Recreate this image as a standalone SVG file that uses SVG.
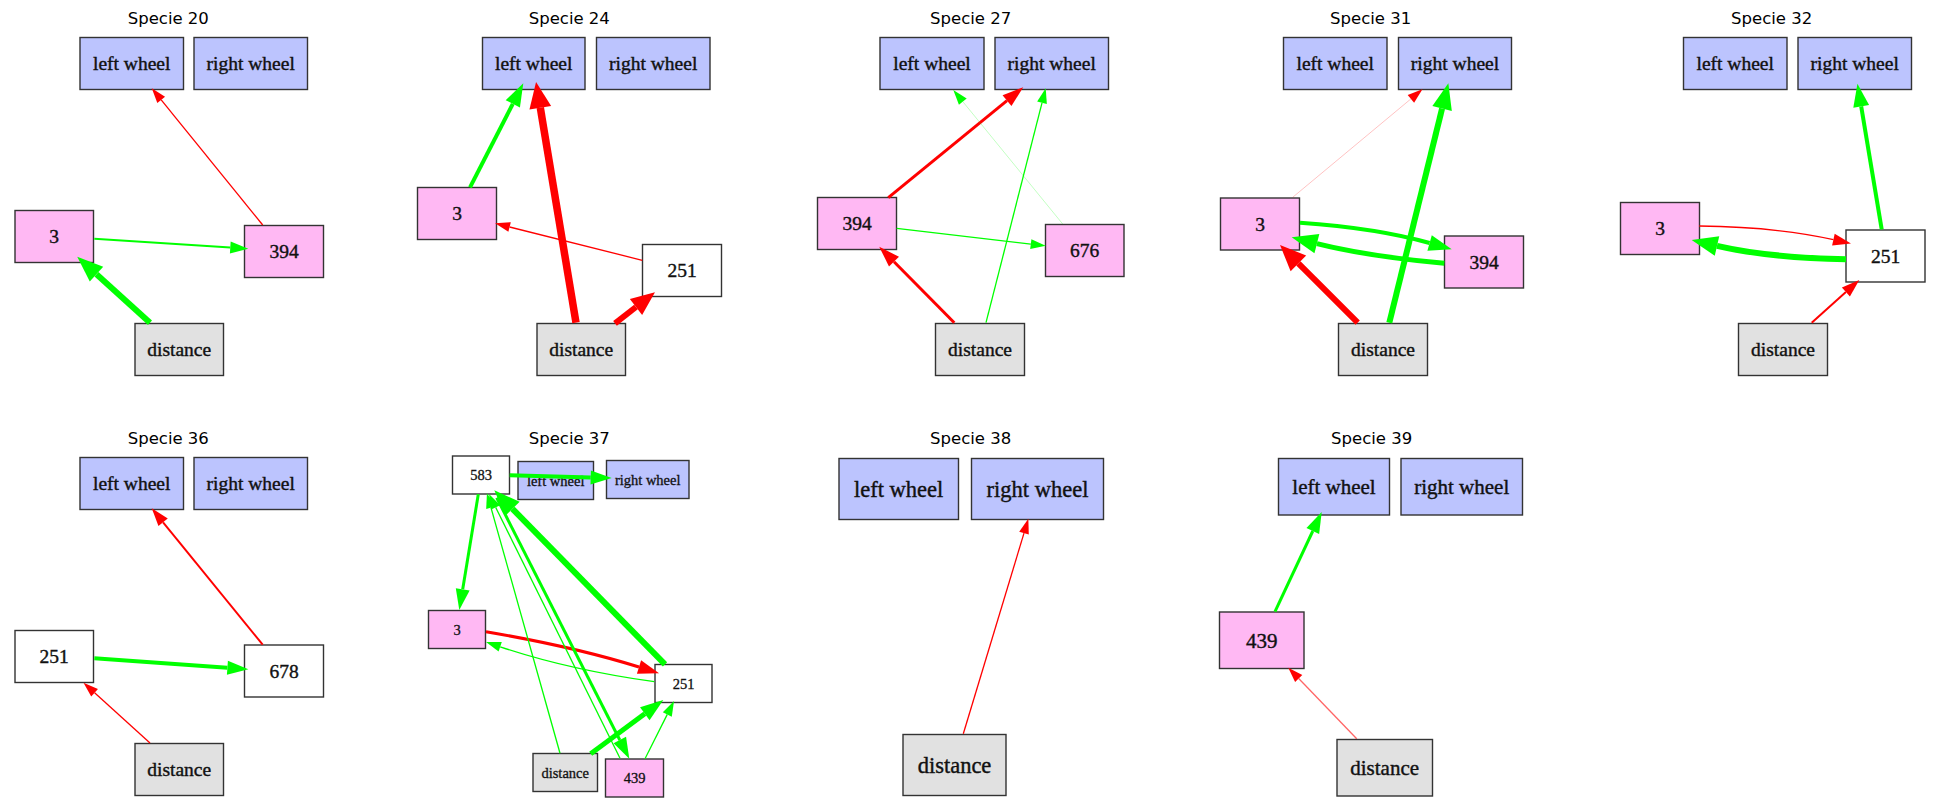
<svg xmlns="http://www.w3.org/2000/svg" width="1939" height="812" viewBox="0 0 1939 812">
  <style>
    .title { font-family: "DejaVu Sans", sans-serif; font-size: 16.5px; text-anchor: middle; fill: #000; }
    .node rect { stroke: #333333; stroke-width: 1.4; }
    .node text { font-family: "Liberation Serif", "Times New Roman", serif; text-anchor: middle; fill: #111; stroke: #111; stroke-width: 0.4; }
    .f19 text { font-size: 19.5px; }
    .f15 text { font-size: 14.5px; stroke-width: 0.3; }
    .f22 text { font-size: 22.5px; }
    .f21 text { font-size: 21px; }
    .blue { fill: #bcc4fe; }
    .pink { fill: #ffb8f3; }
    .grey { fill: #e1e1e1; }
    .white { fill: #ffffff; }
    .r { stroke: #ff0000; fill: none; }
    .g { stroke: #00ff00; fill: none; }
    .w0 { stroke-width: 0.8; }
    .w1 { stroke-width: 1.3; }
    .w2 { stroke-width: 2; }
    .w3 { stroke-width: 3; }
    .w4 { stroke-width: 4; }
    .w5 { stroke-width: 5; }
    .w6 { stroke-width: 6; }
    .w7 { stroke-width: 7.5; }
  </style>
  <defs>
    <!-- arrowheads: base at the path end, tip pointing forward -->
    <marker id="r15" markerUnits="userSpaceOnUse" orient="auto" refX="0" refY="0" overflow="visible"><path d="M0,-5 L15,0 L0,5z" fill="#ff0000"/></marker>
    <marker id="r18" markerUnits="userSpaceOnUse" orient="auto" refX="0" refY="0" overflow="visible"><path d="M0,-6 L18,0 L0,6z" fill="#ff0000"/></marker>
    <marker id="r21" markerUnits="userSpaceOnUse" orient="auto" refX="0" refY="0" overflow="visible"><path d="M0,-7 L21,0 L0,7z" fill="#ff0000"/></marker>
    <marker id="r24" markerUnits="userSpaceOnUse" orient="auto" refX="0" refY="0" overflow="visible"><path d="M0,-10 L24,0 L0,10z" fill="#ff0000"/></marker>
    <marker id="r26" markerUnits="userSpaceOnUse" orient="auto" refX="0" refY="0" overflow="visible"><path d="M0,-11 L26,0 L0,11z" fill="#ff0000"/></marker>
    <marker id="g15" markerUnits="userSpaceOnUse" orient="auto" refX="0" refY="0" overflow="visible"><path d="M0,-5 L15,0 L0,5z" fill="#00ff00"/></marker>
    <marker id="g18" markerUnits="userSpaceOnUse" orient="auto" refX="0" refY="0" overflow="visible"><path d="M0,-6 L18,0 L0,6z" fill="#00ff00"/></marker>
    <marker id="g21" markerUnits="userSpaceOnUse" orient="auto" refX="0" refY="0" overflow="visible"><path d="M0,-7 L21,0 L0,7z" fill="#00ff00"/></marker>
    <marker id="g23" markerUnits="userSpaceOnUse" orient="auto" refX="0" refY="0" overflow="visible"><path d="M0,-8 L23,0 L0,8z" fill="#00ff00"/></marker>
    <marker id="g26" markerUnits="userSpaceOnUse" orient="auto" refX="0" refY="0" overflow="visible"><path d="M0,-10 L26,0 L0,10z" fill="#00ff00"/></marker>
  </defs>
  <rect width="1939" height="812" fill="#ffffff"/>

  <!-- panel titles -->
  <g id="titles">
    <text class="title" x="168.3" y="23.5">Specie 20</text>
    <text class="title" x="569.3" y="23.5">Specie 24</text>
    <text class="title" x="970.7" y="23.5">Specie 27</text>
    <text class="title" x="1370.7" y="23.5">Specie 31</text>
    <text class="title" x="1771.7" y="23.5">Specie 32</text>
    <text class="title" x="168.3" y="443.5">Specie 36</text>
    <text class="title" x="569.3" y="443.5">Specie 37</text>
    <text class="title" x="970.7" y="443.5">Specie 38</text>
    <text class="title" x="1371.7" y="443.5">Specie 39</text>
  </g>

  <!-- Specie 20 -->
  <g id="s20-left-wheel" class="node f19"><rect class="blue" x="80" y="37.5" width="103.5" height="52"/><text x="131.7" y="70">left wheel</text></g>
  <g id="s20-right-wheel" class="node f19"><rect class="blue" x="194" y="37.5" width="113.5" height="52"/><text x="250.7" y="70">right wheel</text></g>
  <g id="s20-n3" class="node f19"><rect class="pink" x="15" y="210.5" width="78.5" height="52"/><text x="54.2" y="243">3</text></g>
  <g id="s20-n394" class="node f19"><rect class="pink" x="244.5" y="225.5" width="79" height="52"/><text x="284" y="258">394</text></g>
  <g id="s20-distance" class="node f19"><rect class="grey" x="135" y="323.5" width="88.5" height="52"/><text x="179.2" y="356">distance</text></g>

  <!-- Specie 24 -->
  <g id="s24-left-wheel" class="node f19"><rect class="blue" x="482.5" y="37.5" width="102.5" height="52"/><text x="533.7" y="70">left wheel</text></g>
  <g id="s24-right-wheel" class="node f19"><rect class="blue" x="596.5" y="37.5" width="113.5" height="52"/><text x="653.2" y="70">right wheel</text></g>
  <g id="s24-n3" class="node f19"><rect class="pink" x="417.5" y="187.5" width="79" height="52"/><text x="457" y="220">3</text></g>
  <g id="s24-n251" class="node f19"><rect class="white" x="642.5" y="244.5" width="79" height="52"/><text x="682" y="277">251</text></g>
  <g id="s24-distance" class="node f19"><rect class="grey" x="537" y="323.5" width="88.5" height="52"/><text x="581.2" y="356">distance</text></g>

  <!-- Specie 27 -->
  <g id="s27-left-wheel" class="node f19"><rect class="blue" x="880" y="37.5" width="104" height="52"/><text x="932" y="70">left wheel</text></g>
  <g id="s27-right-wheel" class="node f19"><rect class="blue" x="995" y="37.5" width="113.5" height="52"/><text x="1051.7" y="70">right wheel</text></g>
  <g id="s27-n394" class="node f19"><rect class="pink" x="817.5" y="197.5" width="79" height="52"/><text x="857" y="230">394</text></g>
  <g id="s27-n676" class="node f19"><rect class="pink" x="1045.5" y="224.5" width="78.5" height="52"/><text x="1084.7" y="257">676</text></g>
  <g id="s27-distance" class="node f19"><rect class="grey" x="935.5" y="323.5" width="89" height="52"/><text x="980" y="356">distance</text></g>

  <!-- Specie 31 -->
  <g id="s31-left-wheel" class="node f19"><rect class="blue" x="1283.5" y="37.5" width="103.5" height="52"/><text x="1335.2" y="70">left wheel</text></g>
  <g id="s31-right-wheel" class="node f19"><rect class="blue" x="1398.5" y="37.5" width="113" height="52"/><text x="1455" y="70">right wheel</text></g>
  <g id="s31-n3" class="node f19"><rect class="pink" x="1220.5" y="198" width="79" height="52"/><text x="1260" y="230.5">3</text></g>
  <g id="s31-n394" class="node f19"><rect class="pink" x="1444.5" y="236" width="79" height="52"/><text x="1484" y="268.5">394</text></g>
  <g id="s31-distance" class="node f19"><rect class="grey" x="1338.5" y="323.5" width="89" height="52"/><text x="1383" y="356">distance</text></g>

  <!-- Specie 32 -->
  <g id="s32-left-wheel" class="node f19"><rect class="blue" x="1683.5" y="37.5" width="103.5" height="52"/><text x="1735.2" y="70">left wheel</text></g>
  <g id="s32-right-wheel" class="node f19"><rect class="blue" x="1798" y="37.5" width="113.5" height="52"/><text x="1854.7" y="70">right wheel</text></g>
  <g id="s32-n3" class="node f19"><rect class="pink" x="1620.5" y="202.5" width="79" height="52"/><text x="1660" y="235">3</text></g>
  <g id="s32-n251" class="node f19"><rect class="white" x="1846" y="230" width="79" height="52"/><text x="1885.5" y="262.5">251</text></g>
  <g id="s32-distance" class="node f19"><rect class="grey" x="1738.5" y="323.5" width="89" height="52"/><text x="1783" y="356">distance</text></g>

  <!-- Specie 36 -->
  <g id="s36-left-wheel" class="node f19"><rect class="blue" x="80" y="457.5" width="103.5" height="52"/><text x="131.7" y="490">left wheel</text></g>
  <g id="s36-right-wheel" class="node f19"><rect class="blue" x="194" y="457.5" width="113.5" height="52"/><text x="250.7" y="490">right wheel</text></g>
  <g id="s36-n251" class="node f19"><rect class="white" x="15" y="630.5" width="78.5" height="52"/><text x="54.2" y="663">251</text></g>
  <g id="s36-n678" class="node f19"><rect class="white" x="244.5" y="645" width="79" height="52"/><text x="284" y="677.5">678</text></g>
  <g id="s36-distance" class="node f19"><rect class="grey" x="135" y="743.5" width="88.5" height="52"/><text x="179.2" y="776">distance</text></g>

  <!-- Specie 37 -->
  <g id="s37-n583" class="node f15"><rect class="white" x="452.5" y="456" width="57" height="38"/><text x="481" y="480">583</text></g>
  <g id="s37-left-wheel" class="node f15"><rect class="blue" x="518" y="461.5" width="75.5" height="38"/><text x="555.7" y="485.5">left wheel</text></g>
  <g id="s37-right-wheel" class="node f15"><rect class="blue" x="606.5" y="460.5" width="82.5" height="38"/><text x="647.7" y="484.5">right wheel</text></g>
  <g id="s37-n3" class="node f15"><rect class="pink" x="428.5" y="610.5" width="57" height="38"/><text x="457" y="634.5">3</text></g>
  <g id="s37-n251" class="node f15"><rect class="white" x="655" y="664.5" width="57" height="38"/><text x="683.5" y="688.5">251</text></g>
  <g id="s37-distance" class="node f15"><rect class="grey" x="533" y="753.5" width="64.5" height="38"/><text x="565.2" y="777.5">distance</text></g>
  <g id="s37-n439" class="node f15"><rect class="pink" x="605.5" y="759" width="58" height="38"/><text x="634.5" y="783">439</text></g>

  <!-- Specie 38 -->
  <g id="s38-left-wheel" class="node f22"><rect class="blue" x="839" y="458.5" width="119.5" height="61"/><text x="898.7" y="496.5">left wheel</text></g>
  <g id="s38-right-wheel" class="node f22"><rect class="blue" x="971.5" y="458.5" width="132" height="61"/><text x="1037.5" y="496.5">right wheel</text></g>
  <g id="s38-distance" class="node f22"><rect class="grey" x="903" y="734.5" width="103" height="61"/><text x="954.5" y="772.5">distance</text></g>

  <!-- Specie 39 -->
  <g id="s39-left-wheel" class="node f21"><rect class="blue" x="1278.5" y="458.5" width="111" height="56.5"/><text x="1334" y="494">left wheel</text></g>
  <g id="s39-right-wheel" class="node f21"><rect class="blue" x="1401" y="458.5" width="121.5" height="56.5"/><text x="1461.7" y="494">right wheel</text></g>
  <g id="s39-n439" class="node f21"><rect class="pink" x="1219.5" y="612" width="84.5" height="56.5"/><text x="1261.7" y="647.5">439</text></g>
  <g id="s39-distance" class="node f21"><rect class="grey" x="1337" y="739.5" width="95.5" height="56.5"/><text x="1384.7" y="775">distance</text></g>

  <!-- weighted connections, drawn over the nodes -->
  <g id="connectors">
    <!-- Specie 20 -->
    <path class="r w1" d="M262.7,225 L161.2,99.9" marker-end="url(#r15)"/>
    <path class="g w2" d="M94.3,238.7 L230.3,247.5" marker-end="url(#g18)"/>
    <path class="g w6" d="M150,322.7 L96.5,274.2" marker-end="url(#g26)"/>
    <!-- Specie 24 -->
    <path class="g w4" d="M470,187.3 L512.8,103.8" marker-end="url(#g23)"/>
    <path class="r w7" d="M576,322.7 L540.3,107.7" marker-end="url(#r26)"/>
    <path class="r w1" d="M642.3,260.3 L509.6,227" marker-end="url(#r15)"/>
    <path class="r w6" d="M615,323.3 L636,307" marker-end="url(#r24)"/>
    <!-- Specie 27 -->
    <path class="r w3" d="M888.3,197.7 L1007,100.6" marker-end="url(#r21)"/>
    <path class="g w0" stroke-opacity="0.3" d="M1062.7,224 L962.8,101.6" marker-end="url(#g15)"/>
    <path class="g w1" d="M986,322.7 L1042,102.8" marker-end="url(#g15)"/>
    <path class="g w1" d="M896.7,228.3 L1030.8,244.1" marker-end="url(#g15)"/>
    <path class="r w3" d="M954.3,322.7 L894,261.7" marker-end="url(#r21)"/>
    <!-- Specie 31 -->
    <path class="r w0" stroke-opacity="0.3" d="M1292.7,197.3 L1410.9,98.9" marker-end="url(#r15)"/>
    <path class="g w6" d="M1389.3,322.7 L1442.1,108.5" marker-end="url(#g26)"/>
    <path class="g w4" d="M1300,222.7 Q1377.3,228.1 1429.6,243" marker-end="url(#g23)"/>
    <path class="g w5" d="M1444.3,263.3 Q1367,256.2 1316.9,243.6" marker-end="url(#g26)"/>
    <path class="r w6" d="M1357.7,322.7 L1298.4,263.4" marker-end="url(#r26)"/>
    <!-- Specie 32 -->
    <path class="g w4" d="M1881.7,229.3 L1861.2,106.4" marker-end="url(#g23)"/>
    <path class="r w1" d="M1699.3,226 Q1775.6,226.8 1833.4,239.6" marker-end="url(#r18)"/>
    <path class="g w6" d="M1846,259.3 Q1767.9,257.6 1717,245.9" marker-end="url(#g26)"/>
    <path class="r w2" d="M1811.7,322.7 L1845.9,292" marker-end="url(#r18)"/>
    <!-- Specie 36 -->
    <path class="r w2" d="M262.7,644.7 L163.1,522.3" marker-end="url(#r18)"/>
    <path class="g w4" d="M94.3,658.3 L227.4,667.7" marker-end="url(#g21)"/>
    <path class="r w1" d="M150,743 L94.6,692.8" marker-end="url(#r15)"/>
    <!-- Specie 37 -->
    <path class="g w4" d="M509.7,475.3 L590.7,477.5" marker-end="url(#g21)"/>
    <path class="g w3" d="M478.3,494.3 L462.7,589.3" marker-end="url(#g21)"/>
    <path class="g w6" d="M665,664.3 L512.5,508.8" marker-end="url(#g26)"/>
    <path class="r w3" d="M486,631.7 Q573.9,646.7 639,667" marker-end="url(#r21)"/>
    <path class="g w1" d="M654.3,681.7 Q568.4,669.7 500.2,646.8" marker-end="url(#g15)"/>
    <path class="g w1" d="M560,753.3 L491,507.7" marker-end="url(#g15)"/>
    <path class="g w1" d="M620,758.3 L495.7,507.4" marker-end="url(#g15)"/>
    <path class="g w3" d="M496.7,497.7 L619.8,740" marker-end="url(#g21)"/>
    <path class="g w5" d="M590.7,753.7 L644.8,713.7" marker-end="url(#g23)"/>
    <path class="g w1" d="M645,758.7 L667.3,714.4" marker-end="url(#g15)"/>
    <!-- Specie 38 -->
    <path class="r w1" d="M963.3,733.7 L1024,533.1" marker-end="url(#r15)"/>
    <!-- Specie 39 -->
    <path class="g w3" d="M1275,611.7 L1312.8,531" marker-end="url(#g21)"/>
    <path class="r w1" stroke-opacity="0.6" d="M1356.7,738.7 L1298.7,678.5" marker-end="url(#r15)"/>
  </g>
</svg>
